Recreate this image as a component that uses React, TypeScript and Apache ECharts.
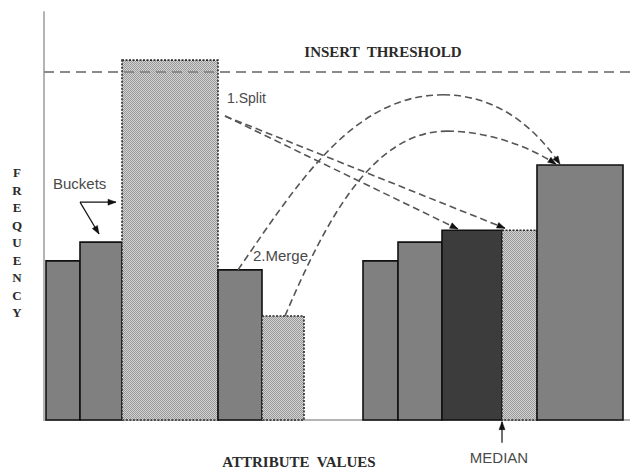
import { useEffect, useRef } from 'react';
import * as echarts from 'echarts';

// Bucket boundaries (attribute values) and frequencies
const bucketStart = [2, 36, 78, 174, 218, 319, 354, 398, 458, 493];
const bucketEnd = [36, 78, 174, 218, 260, 354, 398, 458, 493, 579];
const bucketFreq = [39, 43.6, 88.2, 36.8, 25.5, 39, 43.6, 46.5, 46.5, 62.5];
const bucketKind = ['plain', 'plain', 'hatched', 'plain', 'hatched', 'plain', 'plain', 'dark', 'hatched', 'plain'];
const insertThreshold = 85.3;
const medianValue = 458;
const xRange = [0, 586];
const yRange = [0, 100];

// Annotation arrows in data coordinates: 2 points = straight, 1+3n points = cubic segments
const arrowPaths: number[][][] = [
  [[181, 74.5], [414, 46.8]],
  [[181, 74.5], [461, 47]],
  [[194, 36.8], [254, 58.1], [309, 79.7], [399, 79.7], [449, 79.7], [488, 72.8], [516, 62.7]],
  [[241, 25.5], [281, 48.5], [328, 70.8], [403, 70.8], [443, 70.8], [484, 67.2], [512, 62.7]],
  [[36, 53.4], [72, 53.4]],
  [[36, 53.4], [55, 45.6]],
  [[medianValue, -5.6], [medianValue, -0.4]],
];
const arrowDashed = [true, true, true, true, false, false, false];

export default function App() {
  const ref = useRef<HTMLDivElement>(null);
  useEffect(() => {
    const chart = echarts.init(ref.current!, null, { renderer: 'svg' });
    const tile = document.createElement('canvas');
    tile.width = 2;
    tile.height = 2;
    const ctx = tile.getContext('2d')!;
    ctx.fillStyle = '#d2d2d2';
    ctx.fillRect(0, 0, 2, 2);
    ctx.fillStyle = '#9a9a9a';
    ctx.fillRect(0, 0, 1, 1);
    ctx.fillRect(1, 1, 1, 1);
    const hatch: any = { image: tile, repeat: 'repeat', imageWidth: 2, imageHeight: 2 };

    const serif = '"Liberation Serif", "DejaVu Serif", serif';
    const sans = '"Liberation Sans", Arial, sans-serif';

    const option: any = {
      animation: false,
      grid: { left: 44, right: 0, top: 12, bottom: 51 },
      xAxis: {
        type: 'value', min: xRange[0], max: xRange[1],
        axisLine: { show: true, onZero: true, lineStyle: { color: '#b4b4b4', width: 2 } },
        axisTick: { show: false }, axisLabel: { show: false }, splitLine: { show: false },
      },
      yAxis: {
        type: 'value', min: yRange[0], max: yRange[1],
        axisLine: { show: true, lineStyle: { color: '#b4b4b4', width: 2 } },
        axisTick: { show: false }, axisLabel: { show: false }, splitLine: { show: false },
      },
      series: [
        {
          type: 'custom',
          name: 'buckets',
          encode: { x: [0, 1], y: 2 },
          data: bucketStart.map((s, i) => [s, bucketEnd[i], bucketFreq[i], i]),
          renderItem: (params: any, api: any) => {
            const i = api.value(3);
            const tl = api.coord([api.value(0), api.value(2)]);
            const br = api.coord([api.value(1), 0]);
            const kind = bucketKind[i];
            const fill = kind === 'dark' ? '#3c3c3c' : kind === 'hatched' ? hatch : '#808080';
            return {
              type: 'rect',
              shape: { x: tl[0], y: tl[1], width: br[0] - tl[0], height: br[1] - tl[1] },
              style: {
                fill,
                stroke: kind === 'hatched' ? '#2a2a2a' : '#111',
                lineWidth: 1.6,
                lineDash: kind === 'hatched' ? [2, 1.5] : null,
              },
            };
          },
          z: 2,
        },
        {
          type: 'line',
          name: 'threshold',
          data: [[xRange[0], insertThreshold], [xRange[1], insertThreshold]],
          symbol: 'none',
          lineStyle: { color: '#8a8a8a', width: 2, type: [10, 6] },
          z: 3,
        },
        {
          type: 'custom',
          name: 'arrows',
          data: arrowPaths.map((_, i) => [i]),
          encode: { x: 0 },
          renderItem: (params: any, api: any) => {
            const i = params.dataIndex;
            const pts = arrowPaths[i].map((p) => api.coord(p));
            const dashed = arrowDashed[i];
            const stroke = dashed ? '#555' : '#111';
            const lineStyle: any = { stroke, lineWidth: dashed ? 1.6 : 1.2, fill: 'none', lineDash: dashed ? [7, 4] : null };
            const children: any[] = [];
            if (pts.length === 2) {
              children.push({ type: 'line', shape: { x1: pts[0][0], y1: pts[0][1], x2: pts[1][0], y2: pts[1][1] }, style: lineStyle });
            } else {
              for (let k = 0; k + 3 < pts.length; k += 3) {
                children.push({
                  type: 'bezierCurve',
                  shape: {
                    x1: pts[k][0], y1: pts[k][1],
                    cpx1: pts[k + 1][0], cpy1: pts[k + 1][1],
                    cpx2: pts[k + 2][0], cpy2: pts[k + 2][1],
                    x2: pts[k + 3][0], y2: pts[k + 3][1],
                  },
                  style: lineStyle,
                });
              }
            }
            const tip = pts[pts.length - 1];
            const prev = pts[pts.length - 2];
            const dx = tip[0] - prev[0];
            const dy = tip[1] - prev[1];
            const len = Math.hypot(dx, dy) || 1;
            const ux = dx / len, uy = dy / len;
            const L = 8, W = 3;
            const bx = tip[0] - ux * L, by = tip[1] - uy * L;
            children.push({
              type: 'polygon',
              shape: { points: [[tip[0], tip[1]], [bx - uy * W, by + ux * W], [bx + uy * W, by - ux * W]] },
              style: { fill: '#111', stroke: '#111', lineWidth: 0.5 },
            });
            return { type: 'group', children };
          },
          z: 4,
        },
      ],
      graphic: [
        { type: 'text', x: 383, y: 52, style: { text: 'INSERT  THRESHOLD', font: `bold 15px ${serif}`, fill: '#2a2a2a', align: 'center', verticalAlign: 'middle' } },
        { type: 'text', x: 299, y: 462, style: { text: 'ATTRIBUTE  VALUES', font: `bold 15px ${serif}`, fill: '#2a2a2a', align: 'center', verticalAlign: 'middle' } },
        { type: 'text', x: 17, y: 164, style: { text: 'F\nR\nE\nQ\nU\nE\nN\nC\nY', font: `bold 13px ${serif}`, lineHeight: 17.5, fill: '#2a2a2a', align: 'center', verticalAlign: 'top' } },
        { type: 'text', x: 227, y: 98, style: { text: '1.Split', font: `14px ${sans}`, fill: '#4a4a4a', align: 'left', verticalAlign: 'middle' } },
        { type: 'text', x: 53, y: 183, style: { text: 'Buckets', font: `15px ${sans}`, fill: '#4a4a4a', align: 'left', verticalAlign: 'middle' } },
        { type: 'text', x: 253, y: 255, style: { text: '2.Merge', font: `15px ${sans}`, fill: '#4a4a4a', align: 'left', verticalAlign: 'middle' } },
        { type: 'text', x: 499, y: 457, style: { text: 'MEDIAN', font: `15px ${sans}`, fill: '#4a4a4a', align: 'center', verticalAlign: 'middle' } },
      ],
    };
    chart.setOption(option);
    return () => chart.dispose();
  }, []);
  return <div ref={ref} style={{ position: 'absolute', left: 0, top: 0, width: 630, height: 471 }} />;
}
